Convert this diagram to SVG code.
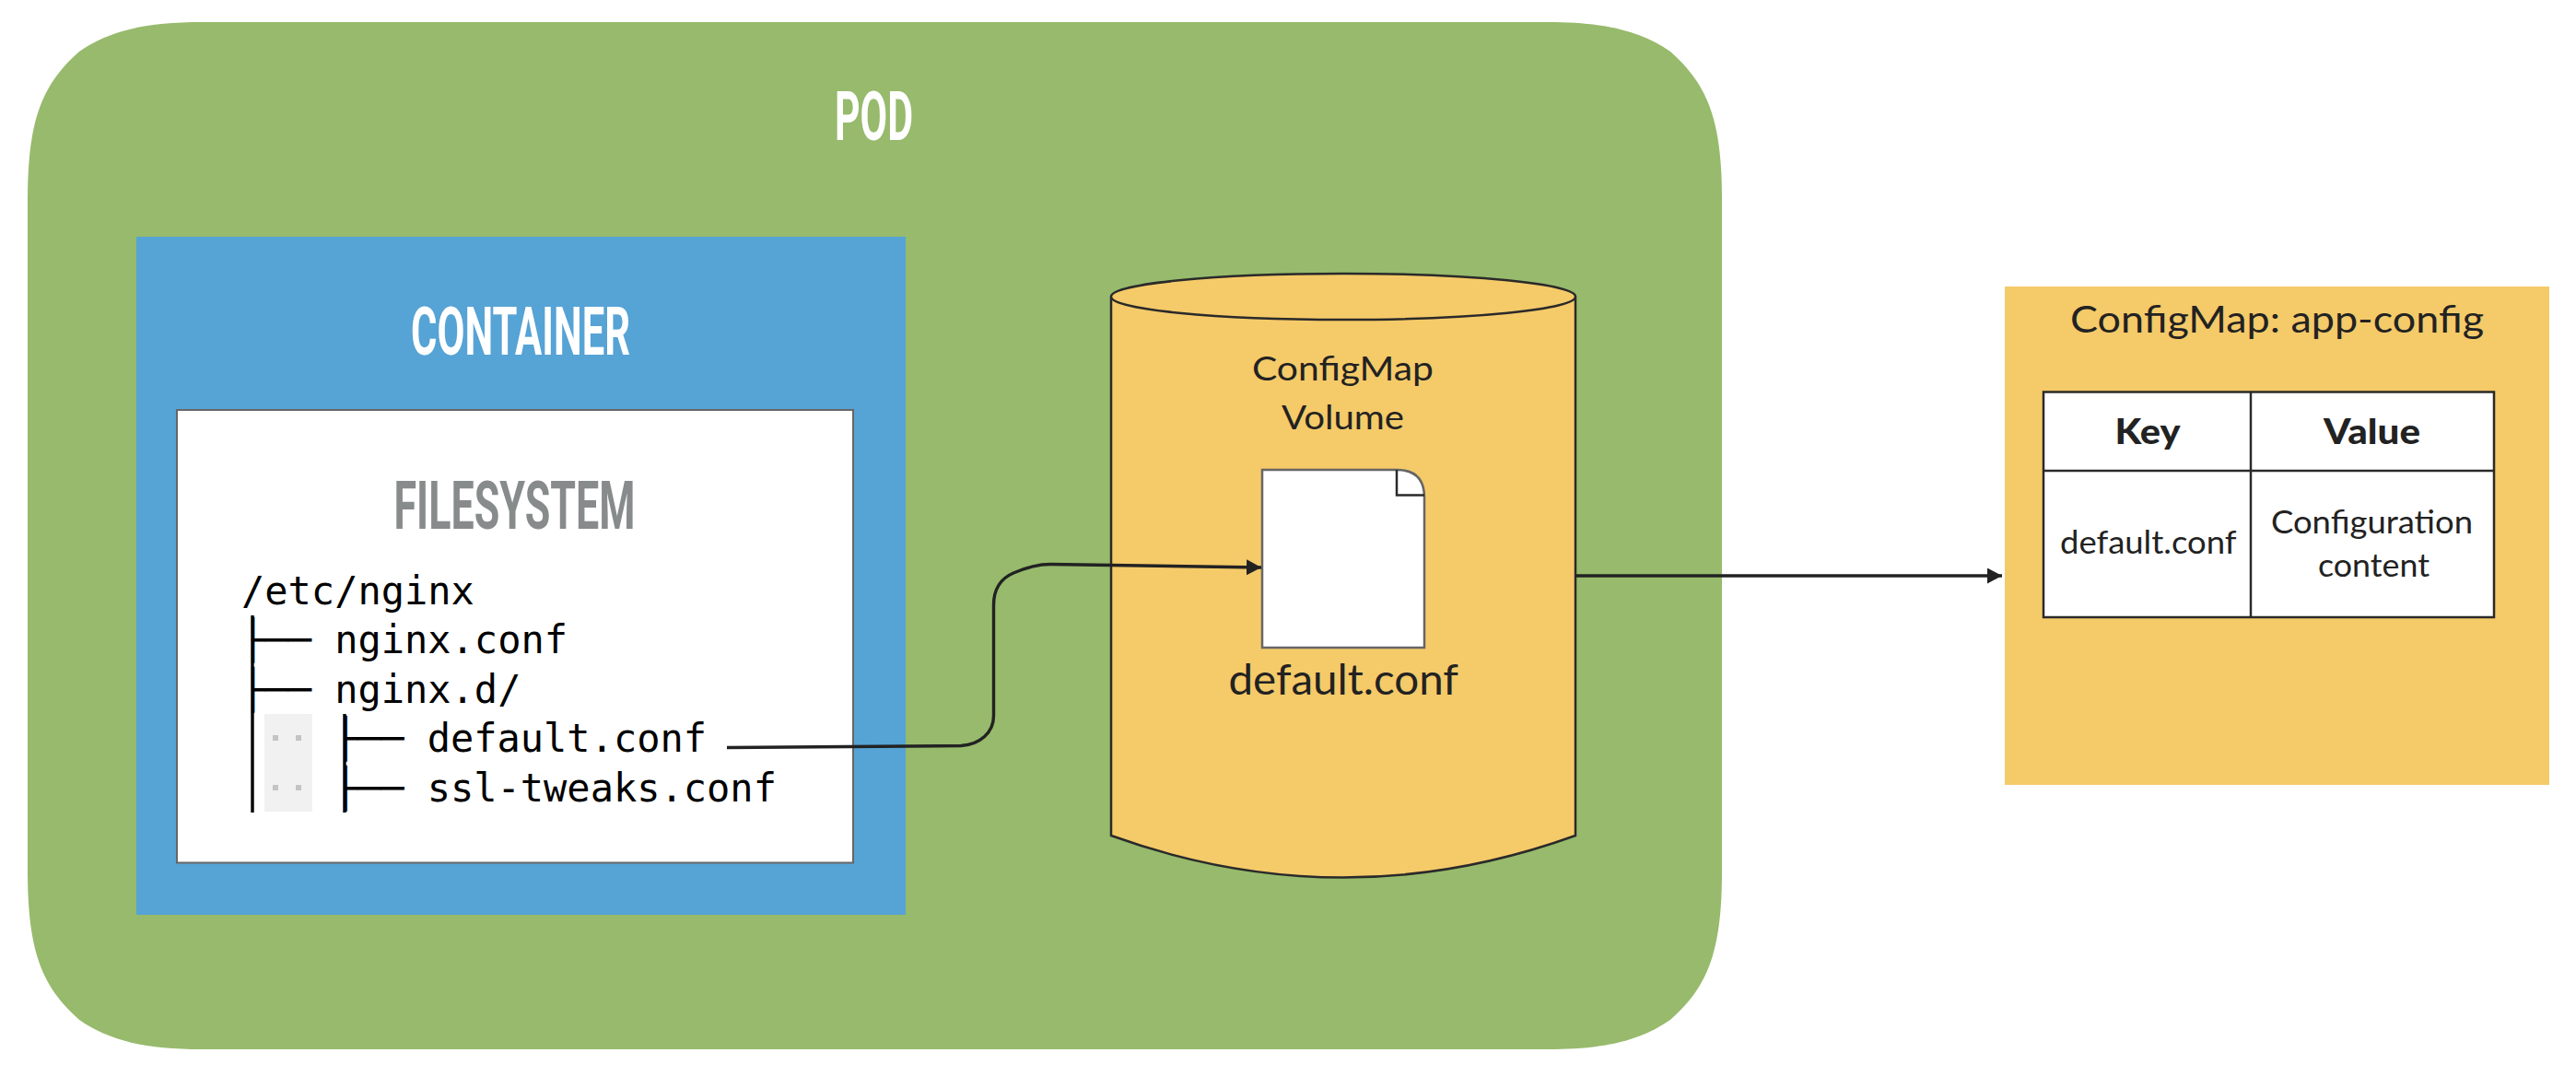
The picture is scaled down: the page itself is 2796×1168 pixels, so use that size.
<svg xmlns="http://www.w3.org/2000/svg" width="2796" height="1168" viewBox="0 0 2796 1168">
<style>
.cond{font-family:"Roboto","Liberation Sans",sans-serif;font-weight:700;text-anchor:start}
.mono{font-family:"DejaVu Sans Mono","Liberation Mono",monospace;font-size:42px;fill:#000}
.av{font-family:"Lato","Noto Sans",sans-serif;fill:#222}
.line{fill:none;stroke:#222;stroke-width:3.4}
.tree{stroke:#000;stroke-width:3.4;fill:none}
.edge{fill:#f5ca69;stroke:#2a2a2a;stroke-width:2.5}
</style>
<defs>
<marker id="arrow" markerUnits="userSpaceOnUse" markerWidth="18" markerHeight="18" refX="16" refY="8.5" orient="auto"><path d="M0 0L16 8.5L0 17Z" fill="#222"/></marker>
</defs>
<rect width="2796" height="1168" fill="#fff"/>
<g id="pod">
<path fill="#97ba6c" d="M219 24H1680C1740 24 1780 33 1813 56C1855 93 1869 133 1869 218V945C1869 1030 1855 1070 1813 1107C1780 1130 1740 1139 1680 1139H219C159 1139 119 1130 86 1107C44 1070 30 1030 30 945V218C30 133 44 93 86 56C119 33 159 24 219 24Z"/>
<text class="cond" x="906" y="152" font-size="74" fill="#fff" textLength="85" lengthAdjust="spacingAndGlyphs">POD</text>
</g>
<g id="container">
<rect x="148" y="257" width="835" height="736" fill="#56a3d5"/>
<text class="cond" x="446" y="385" font-size="72" fill="#fff" textLength="238" lengthAdjust="spacingAndGlyphs">CONTAINER</text>
</g>
<g id="filesystem">
<rect x="192" y="445" width="734" height="491.5" fill="#fff" stroke="#666" stroke-width="2"/>
<text class="cond" x="427.5" y="574" font-size="72" fill="#888b8c" textLength="262" lengthAdjust="spacingAndGlyphs">FILESYSTEM</text>
<rect x="287" y="775" width="52" height="106" fill="#f1f1f1"/>
<g fill="#c4c4c4"><rect x="296" y="798" width="6" height="6"/><rect x="321" y="798" width="6" height="6"/><rect x="296" y="852" width="6" height="6"/><rect x="321" y="852" width="6" height="6"/></g>
<path class="tree" d="M274 668V882M374 775V882"/>
<text class="mono" x="262" y="656">/etc/nginx</text>
<text class="mono" x="262" y="709">├── nginx.conf</text>
<text class="mono" x="262" y="762.5">├── nginx.d/</text>
<text class="mono" x="362.5" y="816">├── default.conf</text>
<text class="mono" x="362.5" y="870">├── ssl-tweaks.conf</text>
</g>
<g id="volume">
<path class="edge" d="M1206 322V907Q1458 998 1710 907V322"/>
<ellipse class="edge" cx="1458" cy="322" rx="252" ry="25"/>
<text class="av" x="1359" y="412.5" font-size="36" textLength="197" lengthAdjust="spacingAndGlyphs">ConfigMap</text>
<text class="av" x="1391" y="466" font-size="36" textLength="133" lengthAdjust="spacingAndGlyphs">Volume</text>
<path d="M1370 510H1516Q1546 510 1546 540V703H1370Z" fill="#fff" stroke="#666" stroke-width="2.5"/>
<path d="M1516 510V537.5H1546" fill="none" stroke="#2a2a2a" stroke-width="2.5"/>
<text class="av" x="1333.5" y="754" font-size="47" textLength="249.5" lengthAdjust="spacingAndGlyphs">default.conf</text>
</g>
<g id="configmap">
<rect x="2176" y="311" width="591" height="541" fill="#f5ca69"/>
<text class="av" x="2247" y="360.5" font-size="40" textLength="449" lengthAdjust="spacingAndGlyphs">ConfigMap: app-config</text>
<rect x="2218" y="425.5" width="489" height="244.5" fill="#fff" stroke="#2a2a2a" stroke-width="2.5"/>
<path d="M2443 425.5V670M2218 511H2707" fill="none" stroke="#2a2a2a" stroke-width="2.5"/>
<text class="av" x="2295.5" y="481.5" font-size="38" font-weight="900" textLength="71" lengthAdjust="spacingAndGlyphs">Key</text>
<text class="av" x="2522" y="481.5" font-size="38" font-weight="900" textLength="105" lengthAdjust="spacingAndGlyphs">Value</text>
<text class="av" x="2236" y="601" font-size="34" textLength="191.5" lengthAdjust="spacingAndGlyphs">default.conf</text>
<text class="av" x="2465" y="579" font-size="34" textLength="219" lengthAdjust="spacingAndGlyphs">Configuration</text>
<text class="av" x="2516" y="625.5" font-size="34" textLength="121" lengthAdjust="spacingAndGlyphs">content</text>
</g>
<g id="connectors">
<path class="line" marker-end="url(#arrow)" d="M789 811.5L1043 809.5C1064 808 1078.5 795 1078.5 777V657C1078.5 640 1086 628 1100 622C1114 616 1128 612.5 1140 612.5L1369 616"/>
<path class="line" marker-end="url(#arrow)" d="M1711 625H2173"/>
</g>
</svg>
